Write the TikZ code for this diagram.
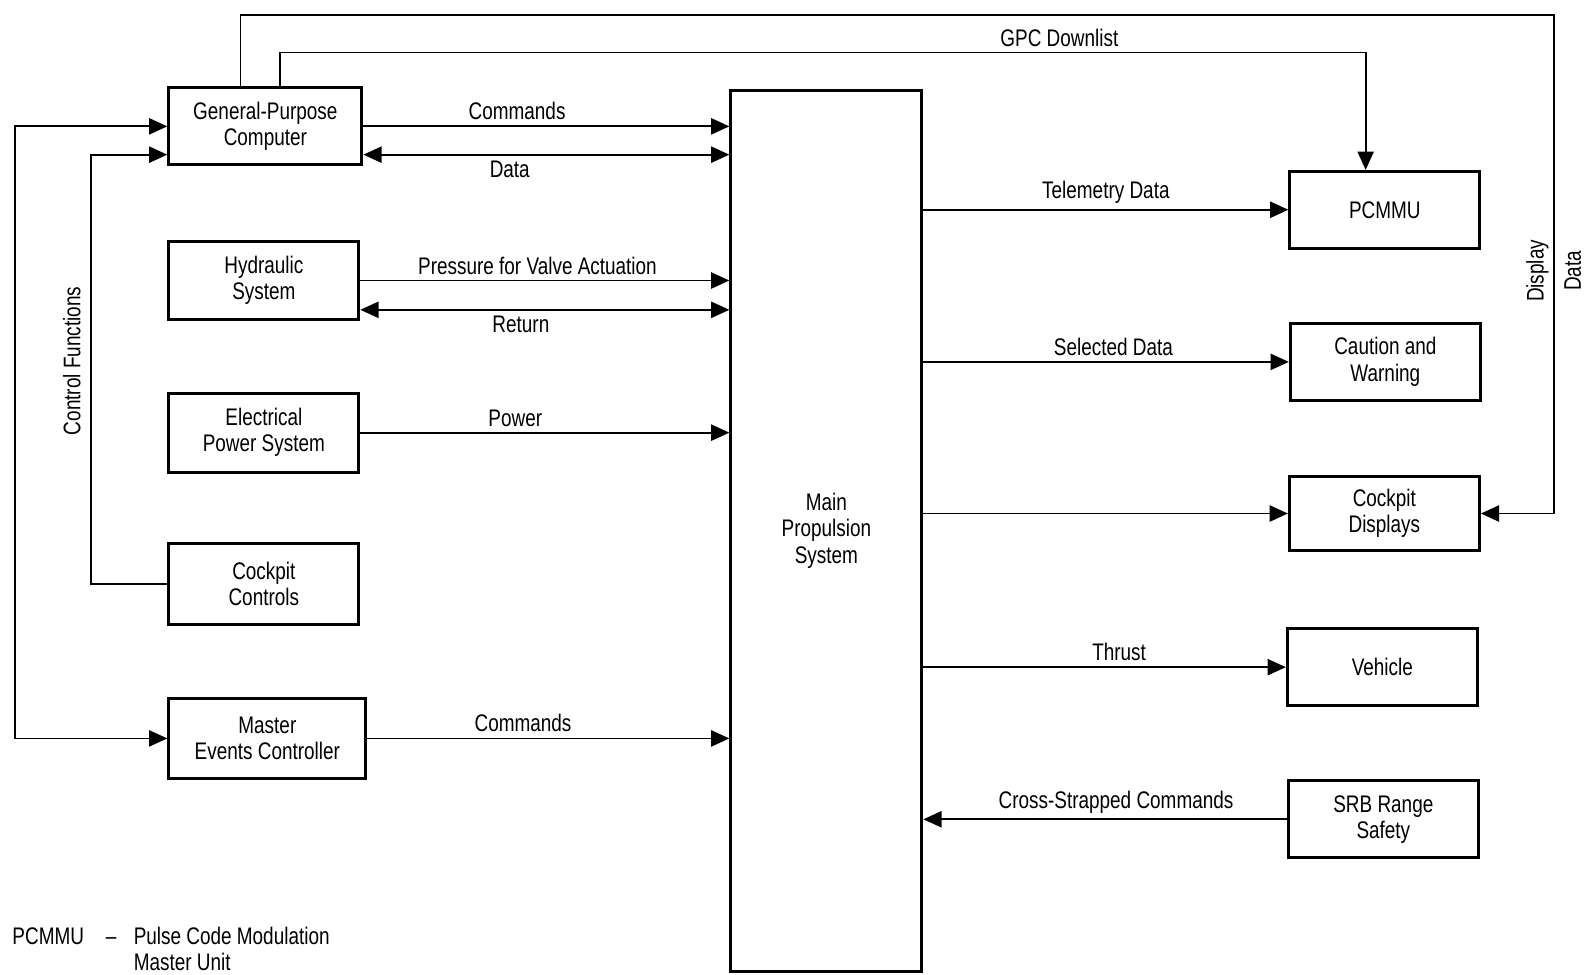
\documentclass[tikz,border=0pt]{standalone}
\usepackage{fontspec}
\setmainfont{Liberation Sans}[FakeStretch=0.79]
\usetikzlibrary{arrows.meta,positioning}
\tikzset{
  blk/.style={draw,line width=0.06cm,minimum width=3.76cm,minimum height=1.52cm,align=center,inner sep=0pt},
  arr/.style={-{Triangle[length=0.36cm,width=0.32cm]},line width=0.035cm},
  darr/.style={{Triangle[length=0.36cm,width=0.32cm]}-{Triangle[length=0.36cm,width=0.32cm]},line width=0.035cm},
  lbl/.style={inner sep=3pt},
}

\begin{document}
\begin{tikzpicture}[x=0.02cm,y=-0.02cm,font=\fontsize{13.5}{14.8}\selectfont]
\useasboundingbox (0,0) rectangle (1568,964);
% left column
\node[blk, minimum width=3.82cm] (gpc) at (262.5,125) {General-Purpose\\Computer};
\node[blk, minimum height=1.54cm] (hyd) at (261,277.5) {Hydraulic\\System};
\node[blk, minimum height=1.56cm] (eps) at (261,428) {Electrical\\Power System};
\node[blk, minimum height=1.6cm] (cc) at (261,578) {Cockpit\\Controls};
\node[blk, minimum width=3.9cm, minimum height=1.58cm] (mec) at (264.5,730.5) {Master\\Events Controller};
% main block
\node[blk, minimum width=3.78cm, minimum height=17.44cm] (mps) at (817.5,525) {Main\\Propulsion\\System};
% right column
\node[blk] (pcmmu) at (1370,207.5) {PCMMU};
\node[blk] (cw) at (1370.5,358) {Caution and\\Warning};
\node[blk, minimum height=1.48cm] (cd) at (1369.5,508) {Cockpit\\Displays};
\node[blk] (veh) at (1367.5,660) {Vehicle};
\node[blk] (srb) at (1368.5,810.5) {SRB Range\\Safety};

% inputs to the main block
\coordinate (gd) at ([yshift=-0.56cm]gpc.east);
\coordinate (hr) at ([yshift=-0.58cm]hyd.east);
\draw[arr] (gpc.east) -- node[lbl,above,pos=0.42] {Commands} (gpc.east -| mps.west);
\draw[darr] (gd) -- node[lbl,below,pos=0.40] {Data} (gd -| mps.west);
\draw[arr] (hyd.east) -- node[lbl,above,pos=0.48] {Pressure for Valve Actuation} (hyd.east -| mps.west);
\draw[darr] (hr) -- node[lbl,below,pos=0.435] {Return} (hr -| mps.west);
\draw[arr] (eps.east) -- node[lbl,above,pos=0.42] {Power} (eps.east -| mps.west);
\draw[arr] (mec.east) -- node[lbl,above,pos=0.43] {Commands} (mec.east -| mps.west);

% outputs
\draw[arr] (mps.east |- pcmmu.west) -- node[lbl,above,pos=0.5] {Telemetry Data} (pcmmu.west);
\draw[arr] (mps.east |- cw.west) -- node[lbl,above,pos=0.52] {Selected Data} (cw.west);
\draw[arr] (mps.east |- cd.west) -- (cd.west);
\draw[arr] (mps.east |- veh.west) -- node[lbl,above,pos=0.54] {Thrust} (veh.west);
\draw[arr] (srb.west) -- node[lbl,above,pos=0.47] {Cross-Strapped Commands} (srb.west -| mps.east);

% lines over the top
\coordinate (ddtop) at (1537,15);
\coordinate (dltop) at (1351,52);
\draw[arr] ([xshift=-0.49cm]gpc.north) |- (ddtop) |- (cd.east);
\node[rotate=90,align=center] (ddlbl) at (1537,268) {Display\\[0.22cm]Data};
\draw[arr] ([xshift=0.29cm]gpc.north) |- (dltop) -- (dltop |- pcmmu.north);
\node[lbl,above] (dllbl) at (1048,52) {GPC Downlist};

% control lines on the left
\coordinate (cfx) at (15,400);
\coordinate (ccx) at (90,400);
\coordinate (gc) at ([yshift=-0.56cm]gpc.west);
\draw[darr] (gpc.west) -| (cfx) |- (mec.west);
\node[rotate=90] (cflbl) at (71,357) {Control Functions};
\draw[arr] (cc.west) -| (ccx) |- (gc);

% legend
\node[anchor=west,inner sep=0pt] (legk) at (12,926) {PCMMU};
\node[anchor=base west,inner sep=0pt] (legd) at ([xshift=0.42cm]legk.base east) {--};
\node[anchor=north west,align=left,inner sep=0pt] (legv) at (132,917) {Pulse Code Modulation\\Master Unit};
\end{tikzpicture}
\end{document}
